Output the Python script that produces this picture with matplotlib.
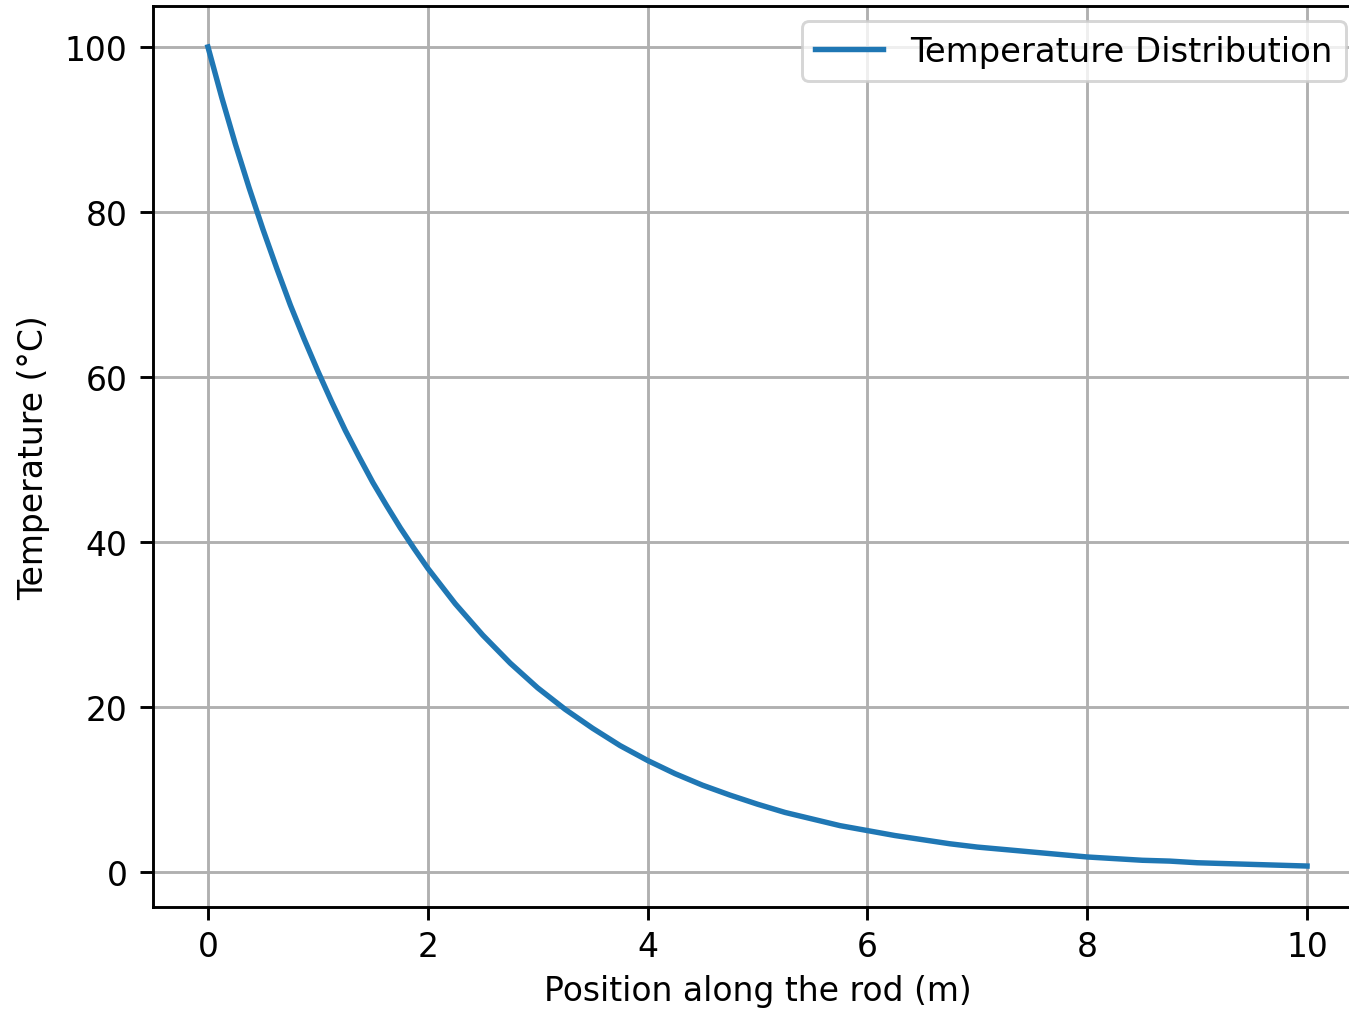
import matplotlib
matplotlib.use("Agg")
import matplotlib.pyplot as plt

# Values
position_m = [0, 0.125, 0.25, 0.375, 0.5, 0.625, 0.75, 0.875, 1.0, 1.125, 1.25,
              1.375, 1.5, 1.625, 1.75, 1.875, 2.0, 2.25, 2.5, 2.75, 3.0,
              3.25, 3.5, 3.75, 4.0, 4.25, 4.5, 4.75, 5.0, 5.25, 5.5, 5.75, 6.0,
              6.25, 6.5, 6.75, 7.0, 7.25, 7.5, 7.75, 8.0, 8.25, 8.5, 8.75, 9.0,
              9.25, 9.5, 9.75, 10.0]
temperature_c = [100, 93.9, 88.2, 82.9, 77.9, 73.2, 68.7, 64.6, 60.7, 57.0, 53.5,
                 50.3, 47.2, 44.4, 41.7, 39.2, 36.8, 32.5, 28.7,
                 25.3, 22.3, 19.7, 17.4, 15.3, 13.5, 11.9, 10.5, 9.3, 8.2, 7.2,
                 6.4, 5.6, 5.0, 4.4, 3.9, 3.4, 3.0, 2.7, 2.4, 2.1, 1.8, 1.6,
                 1.4, 1.3, 1.1, 1.0, 0.9, 0.8, 0.7]

s = 1.24
fs = 1.13
plt.rcParams.update({
    "font.size": 10 * fs,
    "lines.linewidth": 1.5 * s,
    "axes.linewidth": 0.8 * s,
    "grid.linewidth": 0.8 * s,
    "xtick.major.size": 3.5 * s,
    "ytick.major.size": 3.5 * s,
    "xtick.major.width": 0.8 * s,
    "ytick.major.width": 0.8 * s,
    "xtick.major.pad": 3.5 * 1.05,
    "ytick.major.pad": 3.5 * s,
    "axes.labelpad": 4.0 * 0.95,
    "legend.fontsize": 10 * 1.16,
})

dpi = 210
W, H = 1349, 1014
fig = plt.figure(figsize=(W / dpi, H / dpi), dpi=dpi)
ax = fig.add_axes([153 / W, 1 - 908 / H, (1362 - 153) / W, (908 - 7) / H])
ax.plot(position_m, temperature_c, label="Temperature Distribution")
ax.set_xlabel("Position along the rod (m)")
ax.set_ylabel("Temperature (°C)", labelpad=4.0 * s)
ax.grid(True)
ax.legend(loc="upper right", bbox_to_anchor=(1346 / W, 1 - 22 / H),
          bbox_transform=fig.transFigure, borderaxespad=0)
fig.savefig("out.png", dpi=dpi)
